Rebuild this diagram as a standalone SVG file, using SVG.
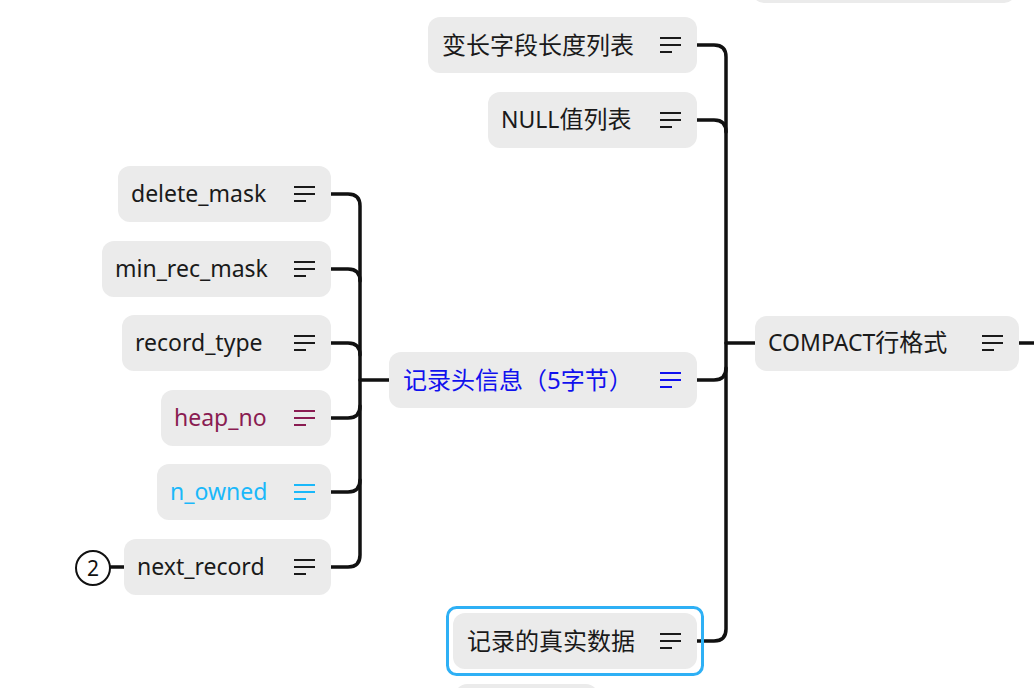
<svg xmlns="http://www.w3.org/2000/svg" width="1034" height="688" viewBox="0 0 1034 688">
<style>
.box{fill:#ebebeb}
.t{font-family:"Noto Sans","Noto Sans CJK SC",sans-serif;font-size:23px;fill:#1a1a1a}
.k{font-size:24px}
.ic{stroke:#1a1a1a;stroke-width:2.2;fill:none}
.c{stroke:#111;stroke-width:3.5;fill:none;stroke-linecap:round}
</style>
<defs>
<g id="icon"><path d="M0 -7h21M0 0h21M0 7h12"/></g>
</defs>
<rect width="1034" height="688" fill="#fff"/>
<g id="connectors" class="c">
<path d="M697 45H714Q726 45 726 57V629Q726 641 714 641H697"/>
<path d="M697 120H714Q726 120 726 132"/>
<path d="M697 380H714Q726 380 726 368"/>
<path d="M726 343H755"/>
<path d="M1019 343H1034"/>
<path d="M331 194H348Q360 194 360 206V555Q360 567 348 567H331"/>
<path d="M331 269H348Q360 269 360 281"/>
<path d="M331 343H348Q360 343 360 355"/>
<path d="M331 418H348Q360 418 360 406"/>
<path d="M331 492H348Q360 492 360 480"/>
<path d="M360 380H389"/>
<path d="M110 567H124"/>
</g>
<g id="n-top-partial"><rect class="box" x="752" y="-60" width="264" height="63" rx="12"/></g>
<g id="n-bottom-partial"><rect class="box" x="455" y="684" width="143" height="56" rx="12"/></g>
<g id="n-varlen"><rect class="box" x="428" y="17" width="269" height="56" rx="12"/><text class="t k" x="442" y="54">变长字段长度列表</text><use href="#icon" x="660" y="45" class="ic"/></g>
<g id="n-null"><rect class="box" x="488" y="92" width="209" height="56" rx="12"/><text class="t" x="501" y="128">NULL<tspan class="k">值列表</tspan></text><use href="#icon" x="660" y="120" class="ic"/></g>
<g id="n-compact"><rect class="box" x="755" y="316" width="264" height="55" rx="12"/><text class="t" x="768" y="351">COMPACT<tspan class="k">行格式</tspan></text><use href="#icon" x="982" y="343" class="ic"/></g>
<g id="n-header"><rect class="box" x="389" y="352" width="308" height="56" rx="12"/><text class="t k" x="403" y="389" style="fill:#1010ee">记录头信息（5字节）</text><use href="#icon" x="660" y="380" class="ic" style="stroke:#1010ee"/></g>
<g id="n-data"><rect x="447.5" y="607.5" width="255" height="67" rx="9" fill="none" stroke="#2eb0f5" stroke-width="3"/><rect class="box" x="453" y="613" width="244" height="56" rx="12"/><text class="t k" x="467" y="650">记录的真实数据</text><use href="#icon" x="660" y="641" class="ic"/></g>
<g id="n-delete"><rect class="box" x="118" y="166" width="213" height="56" rx="12"/><text class="t" x="131" y="202">delete_mask</text><use href="#icon" x="294" y="194" class="ic"/></g>
<g id="n-minrec"><rect class="box" x="102" y="241" width="229" height="56" rx="12"/><text class="t" x="115" y="277">min_rec_mask</text><use href="#icon" x="294" y="269" class="ic"/></g>
<g id="n-rectype"><rect class="box" x="122" y="315" width="209" height="56" rx="12"/><text class="t" x="135" y="351">record_type</text><use href="#icon" x="294" y="343" class="ic"/></g>
<g id="n-heap"><rect class="box" x="161" y="390" width="170" height="56" rx="12"/><text class="t" x="174" y="426" style="fill:#8a1c52">heap_no</text><use href="#icon" x="294" y="418" class="ic" style="stroke:#8a1c52"/></g>
<g id="n-owned"><rect class="box" x="157" y="464" width="174" height="56" rx="12"/><text class="t" x="170" y="500" style="fill:#1ab8fa">n_owned</text><use href="#icon" x="294" y="492" class="ic" style="stroke:#1ab8fa"/></g>
<g id="n-next"><rect class="box" x="124" y="539" width="207" height="56" rx="12"/><text class="t" x="137" y="575">next_record</text><use href="#icon" x="294" y="567" class="ic"/></g>
<g id="badge"><circle cx="93" cy="568" r="17" fill="#fff" stroke="#111" stroke-width="2"/><text x="93" y="576" text-anchor="middle" style="font-family:'Noto Sans',sans-serif;font-size:21px;fill:#111">2</text></g>
</svg>
